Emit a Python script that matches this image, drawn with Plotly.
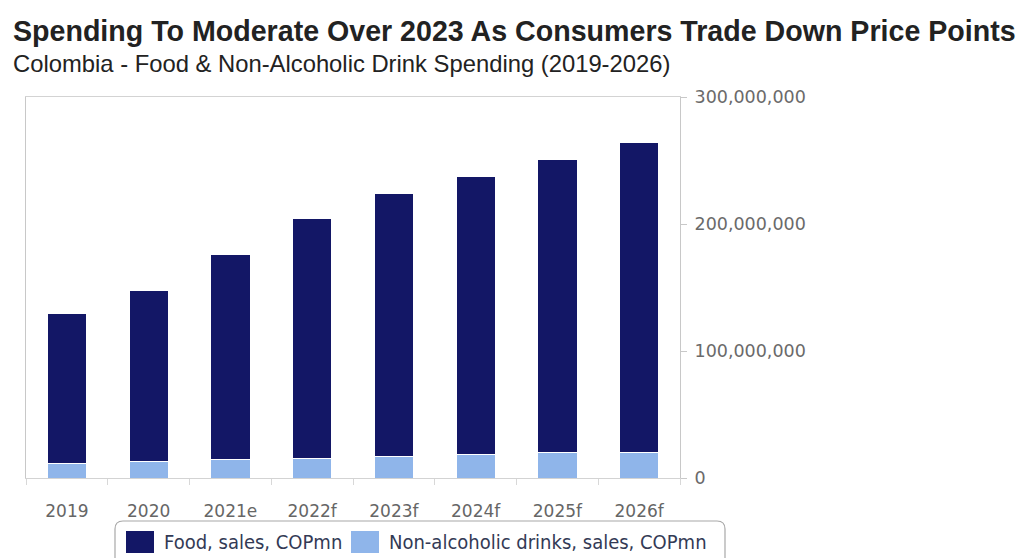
import plotly.graph_objects as go

# Spending data, COP millions
years = ["2019", "2020", "2021e", "2022f", "2023f", "2024f", "2025f", "2026f"]
drinks_sales = [11.8e6, 13.1e6, 14.4e6, 15.7e6, 17.0e6, 18.4e6, 19.7e6, 20.0e6]
food_sales = [117.6e6, 134.9e6, 161.4e6, 188.3e6, 207.0e6, 219.1e6, 231.3e6, 244.0e6]
y_ticks = [0, 100e6, 200e6, 300e6]

FOOD_COLOR = "#131766"
DRINK_COLOR = "#8fb5ea"

W, H = 1022, 558
PL, PR, PT, PB = 26, 680, 97, 478  # plot area in pixels


def px(x):
    return (x - PL) / (PR - PL)


def py(y):
    return (PB - y) / (PB - PT)


fig = go.Figure()
fig.add_trace(go.Bar(
    x=years, y=drinks_sales, name="Non-alcoholic drinks, sales, COPmn",
    marker=dict(color=DRINK_COLOR, line=dict(color="white", width=1)),
    showlegend=False,
))
fig.add_trace(go.Bar(
    x=years, y=food_sales, name="Food, sales, COPmn",
    marker=dict(color=FOOD_COLOR, line=dict(color="white", width=1)),
    showlegend=False,
))

fig.update_layout(
    width=W, height=H,
    barmode="stack", bargap=0.52,
    margin=dict(l=PL, r=W - PR, t=PT, b=H - PB, pad=0),
    paper_bgcolor="white", plot_bgcolor="white",
    font=dict(family="DejaVu Sans", color="#666666"),
    xaxis=dict(
        showline=True, linecolor="#d3d3d3", linewidth=1, mirror=True,
        ticks="outside", tickson="boundaries", ticklen=6, tickcolor="#d8d8d8",
        tickfont=dict(size=17, color="#666666"), ticklabelstandoff=18,
        showgrid=False, fixedrange=True,
    ),
    yaxis=dict(
        side="right", range=[0, 300e6], tickvals=y_ticks, tickformat=",d",
        showline=True, linecolor="#c8c8c8", linewidth=1, mirror=True,
        ticks="outside", ticklen=6, tickcolor="#c8c8c8",
        tickfont=dict(size=17.5, color="#6a6a6a"), ticklabelstandoff=4,
        showgrid=False, zeroline=False,
    ),
)

# Title and subtitle
fig.add_annotation(
    text="<b>Spending To Moderate Over 2023 As Consumers Trade Down Price Points</b>",
    xref="paper", yref="paper", x=px(11), y=py(31), xanchor="left", yanchor="middle",
    showarrow=False, font=dict(family="Liberation Sans", size=28.6, color="#222222"),
)
fig.add_annotation(
    text="Colombia - Food &amp; Non-Alcoholic Drink Spending (2019-2026)",
    xref="paper", yref="paper", x=px(11), y=py(63), xanchor="left", yanchor="middle",
    showarrow=False, font=dict(family="Liberation Sans", size=23.8, color="#222222"),
)

# Legend box with rounded corners
lx0, lx1, ly0, ly1, r = 115, 725, 521, 575, 8
path = (
    f"M {px(lx0)},{py(ly1)} L {px(lx0)},{py(ly0 + r)} "
    f"Q {px(lx0)},{py(ly0)} {px(lx0 + r)},{py(ly0)} "
    f"L {px(lx1 - r)},{py(ly0)} Q {px(lx1)},{py(ly0)} {px(lx1)},{py(ly0 + r)} "
    f"L {px(lx1)},{py(ly1)}"
)
fig.add_shape(type="path", path=path, xref="paper", yref="paper",
              line=dict(color="#a8a8a8", width=1.2), fillcolor="rgba(0,0,0,0)")

legend_items = [
    (127, 153, "Food, sales, COPmn", FOOD_COLOR),
    (352, 378, "Non-alcoholic drinks, sales, COPmn", DRINK_COLOR),
]
for x0, x1, label, color in legend_items:
    fig.add_shape(type="rect", xref="paper", yref="paper",
                  x0=px(x0), x1=px(x1), y0=py(552), y1=py(532),
                  line=dict(color=color, width=2), fillcolor=color)
    fig.add_annotation(
        text=label, xref="paper", yref="paper", x=px(x1 + 9), y=py(542),
        xanchor="left", yanchor="middle", showarrow=False,
        font=dict(family="DejaVu Sans Condensed, DejaVu Sans", size=20, color="#333a55"),
    )

fig.write_html("out.html")
